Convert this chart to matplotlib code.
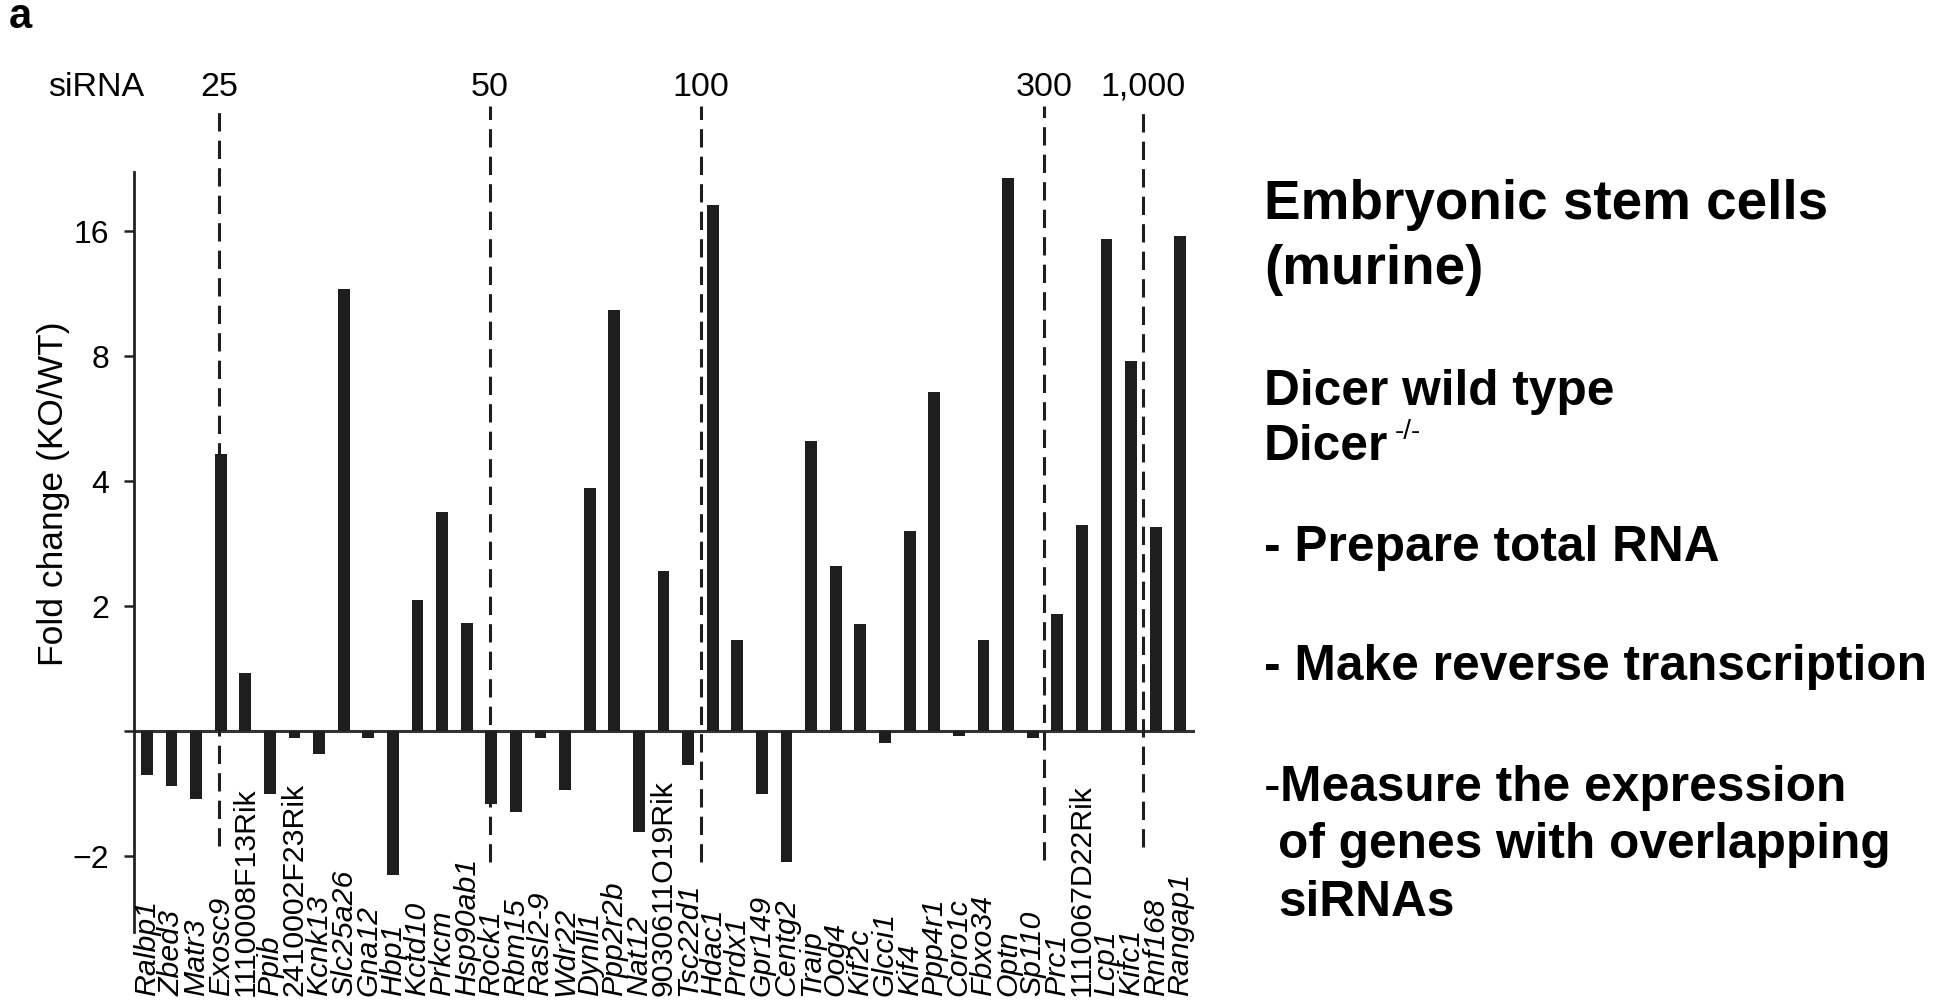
import numpy as np
import matplotlib as mpl
mpl.use('Agg')
import matplotlib.pyplot as plt
from matplotlib.transforms import blended_transform_factory

plt.rcParams['font.family'] = ['Liberation Sans', 'DejaVu Sans']

# genes in the order of the figure, and fold change KO/WT (negative = down)
genes = ['Ralbp1', 'Zbed3', 'Matr3', 'Exosc9', '1110008F13Rik', 'Ppib', '2410002F23Rik',
         'Kcnk13', 'Slc25a26', 'Gna12', 'Hbp1', 'Kctd10', 'Prkcm', 'Hsp90ab1', 'Rock1',
         'Rbm15', 'Rasl2-9', 'Wdr22', 'Dynll1', 'Ppp2r2b', 'Nat12', '9030611O19Rik',
         'Tsc22d1', 'Hdac1', 'Prdx1', 'Gpr149', 'Centg2', 'Traip', 'Oog4', 'Kif2c',
         'Glcci1', 'Kif4', 'Ppp4r1', 'Coro1c', 'Fbxo34', 'Optn', 'Sp110', 'Prc1',
         '1110067D22Rik', 'Lcp1', 'Kifc1', 'Rnf168', 'Rangap1']
fold_change = [-1.28, -1.36, -1.46, 4.63, 1.38, -1.42, -1.04,
               -1.14, 11.6, -1.04, -2.22, 2.07, 3.36, 1.82, -1.50,
               -1.57, -1.04, -1.39, 3.84, 10.3, -1.75, 2.42,
               -1.21, 18.5, 1.65, -1.42, -2.07, 4.98, 2.49, 1.81,
               -1.07, 3.02, 6.54, -1.03, 1.65, 21.4, -1.04, 1.91,
               3.13, 15.3, 7.78, 3.09, 15.5]

# siRNA count thresholds and where they fall between genes
sirna_labels = ['25', '50', '100', '300', '1,000']
sirna_pos = [2.93, 13.94, 22.53, 36.48, 40.5]
sirna_bottom = [-0.92, -1.05, -1.05, -1.03, -0.93]

ytick_vals = [-2, 1, 2, 4, 8, 16]

fc = np.array(fold_change)
heights = np.sign(fc) * np.log2(np.abs(fc))
x = np.arange(len(genes))

fig = plt.figure(figsize=(19.45, 10.03), dpi=100)
W, H = 1945, 1003
ax = fig.add_axes([134 / W, 1 - 933 / H, (1195 - 134) / W, (933 - 173) / H])

dark = '#1e1e1e'
ax.bar(x, heights, width=0.48, color=dark, zorder=3)
ax.axhline(0, color='#333333', lw=2.2, zorder=2)

ax.set_xlim(-0.524, 42.6)
ax.set_ylim(-1.61, 4.47)
for s in ['top', 'right', 'bottom']:
    ax.spines[s].set_visible(False)
ax.spines['left'].set_linewidth(2)
ax.spines['left'].set_color('#222222')
ax.set_xticks([])
ytick_pos = [np.sign(v) * np.log2(abs(v)) for v in ytick_vals]
ax.set_yticks(ytick_pos)
ax.set_yticklabels(['\u22122' if v == -2 else ('' if v == 1 else str(v)) for v in ytick_vals])
ax.tick_params(axis='y', length=7, width=1.8, pad=11, labelsize=23, color='#222222')
ax.set_ylabel('Fold change (KO/WT)', fontsize=25.5)
ax.yaxis.set_label_coords(-0.06, 0.578)

# dashed siRNA threshold lines
for p, lab, b in zip(sirna_pos, sirna_labels, sirna_bottom):
    ax.plot([p, p], [b, 5.0], color=dark, lw=2.2, ls=(0, (6, 3)), clip_on=False, zorder=4)
    ax.text(p, 5.09, lab, ha='center', va='baseline', fontsize=24.5, clip_on=False)
ax.text(-0.1, 5.09, 'siRNA', ha='right', va='baseline', fontsize=24.5, clip_on=False)

# gene names under the bars
trans = blended_transform_factory(ax.transData, fig.transFigure)
for i, g in enumerate(genes):
    style = 'normal' if g.endswith('Rik') else 'italic'
    ax.text(i, 1 - 996 / H, g, rotation=90, ha='center', va='bottom', fontsize=21.8,
            style=style, transform=trans, clip_on=False)

fig.text(9 / W, 1 - 28 / H, 'a', fontsize=30, weight='bold', va='baseline', ha='left')

# text block on the right
tx = 1264 / W
fs = 35.7
fs_big = 39.5
fig.text(tx, 1 - 219 / H, 'Embryonic stem cells', fontsize=fs_big, weight='bold', va='baseline')
fig.text(tx, 1 - 284 / H, '(murine)', fontsize=fs_big, weight='bold', va='baseline')
fig.text(tx, 1 - 405 / H, 'Dicer wild type', fontsize=fs, weight='bold', va='baseline')
fig.text(tx, 1 - 460 / H, 'Dicer', fontsize=fs, weight='bold', va='baseline')
fig.text(1395 / W, 1 - 419 / H, '-/-', fontsize=20, va='top')
fig.text(tx, 1 - 561 / H, '- Prepare total RNA', fontsize=fs, weight='bold', va='baseline')
fig.text(tx, 1 - 680 / H, '- Make reverse transcription', fontsize=fs, weight='bold', va='baseline')
fig.text(tx, 1 - 801 / H, '-', fontsize=fs, va='baseline')
fig.text(1280 / W, 1 - 801 / H, 'Measure the expression', fontsize=fs, weight='bold', va='baseline')
fig.text(1278 / W, 1 - 858 / H, 'of genes with overlapping', fontsize=fs, weight='bold', va='baseline')
fig.text(1278 / W, 1 - 916 / H, 'siRNAs', fontsize=fs, weight='bold', va='baseline')

fig.savefig('out.png', dpi=100)
